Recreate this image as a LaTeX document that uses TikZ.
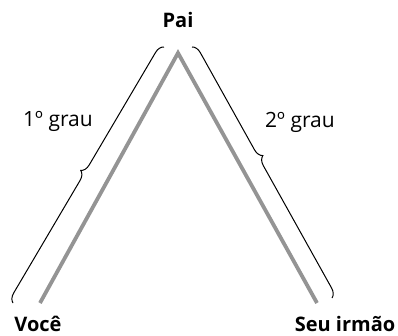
\documentclass[tikz,border=0pt]{standalone}
\usepackage{fontspec}
\setmainfont{Open Sans}
\usetikzlibrary{decorations.pathreplacing}

\begin{document}
\begin{tikzpicture}[%
    x=1pt, y=-1pt,              % Work in picture units
    font=\fontsize{21}{24}\selectfont,
    ]
% -------------------------------------------------
% Styles for the lines, braces and labels
\tikzset{
  ramo/.style={draw=black!42, line width=3.8pt},
  chave/.style={draw, line width=1pt, decorate,
    decoration={brace, amplitude=9pt}},
  nome/.style={anchor=base, inner sep=0pt,
    font={\fontsize{20}{24}\selectfont\bfseries}},
  grau/.style={anchor=base, inner sep=0pt,
    font={\fontsize{21}{24}\selectfont}}
}
\useasboundingbox (0,0) rectangle (398,336);
% -------------------------------------------------
% Corners of the tree
\coordinate (topo) at (178,53);
\coordinate (baseE) at (40,303);
\coordinate (baseD) at (317,303);
% Brace end points
\coordinate (chEb) at (13,303);
\coordinate (chEt) at (164,47);
\coordinate (chDt) at (192,47);
\coordinate (chDb) at (332,298);

\node [nome] (pai) at (178,28) {Pai};
\node [nome] (voce) at (38,331) {Você};
\node [nome] (irmao) at (345,331) {Seu irmão};

\draw [ramo] (baseE) -- (topo) -- (baseD);

\draw [chave, decoration={aspect=0.5}] (chEb) --
  node [grau, pos=0.5, xshift=-30.5pt, yshift=48pt] (g1) {1º grau} (chEt);
\draw [chave, decoration={aspect=0.45}] (chDt) --
  node [grau, pos=0.5, xshift=38pt, yshift=44.5pt] (g2) {2º grau} (chDb);

% -------------------------------------------------
\end{tikzpicture}
\end{document}
